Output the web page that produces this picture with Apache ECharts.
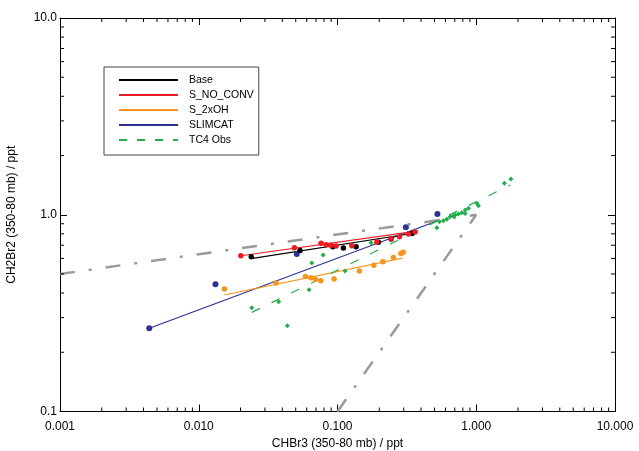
<!DOCTYPE html>
<html><head><meta charset="utf-8">
<script src="https://cdn.jsdelivr.net/npm/echarts@6/dist/echarts.min.js"></script>
<style>html,body{margin:0;padding:0;background:#fff}#c{width:639px;height:451px}</style>
</head><body><div id="c"></div>
<script>
// ---- data ----
const xTickLabels = ['0.001', '0.010', '0.100', '1.000', '10.000'];
const yTickLabels = ['0.1', '1.0', '10.0'];
const xMinorTicks = [0.002,0.003,0.004,0.005,0.006,0.007,0.008,0.009,
  0.02,0.03,0.04,0.05,0.06,0.07,0.08,0.09,
  0.2,0.3,0.4,0.5,0.6,0.7,0.8,0.9,
  2,3,4,5,6,7,8,9];
const yMinorTicks = [0.2,0.3,0.4,0.5,0.6,0.7,0.8,0.9, 2,3,4,5,6,7,8,9];

const baseX = [0.0239, 0.0537, 0.0925, 0.1103, 0.1362, 0.197, 0.2435, 0.345];
const baseY = [0.612, 0.659, 0.688, 0.677, 0.688, 0.724, 0.752, 0.802];
const baseFitX = [0.0245, 0.373];
const baseFitY = [0.600, 0.810];

const noConvX = [0.0201, 0.0489, 0.0762, 0.0828, 0.0895, 0.0977, 0.1268, 0.192, 0.2435, 0.2795, 0.3245, 0.3627];
const noConvY = [0.619, 0.680, 0.716, 0.704, 0.699, 0.693, 0.696, 0.727, 0.755, 0.773, 0.798, 0.817];
const noConvFitX = [0.0201, 0.373];
const noConvFitY = [0.619, 0.825];

const oh2X = [0.0153, 0.0361, 0.0587, 0.0642, 0.0693, 0.0758, 0.0945, 0.1438, 0.1827, 0.2121, 0.2529, 0.286, 0.297];
const oh2Y = [0.419, 0.450, 0.486, 0.478, 0.469, 0.462, 0.471, 0.517, 0.553, 0.577, 0.607, 0.636, 0.644];
const oh2FitX = [0.0153, 0.2937];
const oh2FitY = [0.391, 0.602];

const slimX = [0.0044, 0.0132, 0.0509, 0.311, 0.525];
const slimY = [0.265, 0.443, 0.631, 0.863, 1.008];
const slimFitX = [0.0044, 0.523];
const slimFitY = [0.265, 0.929];

const tc4X = [0.0241, 0.0377, 0.0435, 0.0624, 0.0653, 0.0787, 0.1134, 0.1747, 0.520, 0.543, 0.580, 0.614, 0.648, 0.685, 0.705, 0.744, 0.788, 0.832, 0.879, 0.832, 1.01, 1.037, 1.597, 1.777];
const tc4Y = [0.337, 0.361, 0.273, 0.416, 0.568, 0.624, 0.517, 0.721, 0.859, 0.921, 0.932, 0.948, 0.977, 0.985, 0.997, 1.008, 1.024, 1.056, 1.078, 1.016, 1.143, 1.111, 1.444, 1.519];
const tc4FitX = [0.0241, 1.756];
const tc4FitY = [0.319, 1.416];

const ref1X = [0.001, 1];
const ref1Y = [0.5, 1];
const ref2X = [0.1, 1];
const ref2Y = [0.1, 1];

// ---- chart ----
const FONT = 'Liberation Sans, Arial, Helvetica, sans-serif';
const pair = (xs, ys) => xs.map((x, i) => [x, ys[i]]);
const C = {base:'#000000', noconv:'#ed1c24', oh:'#f7941d', slim:'#2e3192', tc4:'#1fae4b', ref:'#9a9a9a'};

const axisCommon = {
  type: 'log', logBase: 10,
  axisLine: {show: true, onZero: false, lineStyle: {color: '#000', width: 1}},
  axisTick: {show: true, inside: true, length: 7, lineStyle: {color: '#000', width: 1}},
  splitLine: {show: false}
};

function lineSeries(name, xs, ys, color, extra) {
  return Object.assign({
    name: name, type: 'line', data: pair(xs, ys), symbol: 'none', silent: true,
    lineStyle: {color: color, width: 1.2}, itemStyle: {color: color}, z: 3
  }, extra || {});
}
function scatterSeries(name, xs, ys, color, sym, size) {
  return {name: name, type: 'scatter', data: pair(xs, ys), symbol: sym, symbolSize: size,
    itemStyle: {color: color, opacity: 1}, silent: true, z: 4};
}

const chart = echarts.init(document.getElementById('c'));
chart.setOption({
  animation: false,
  backgroundColor: '#fff',
  textStyle: {fontFamily: FONT},
  grid: {left: 60, right: 24, top: 18, bottom: 39.5, containLabel: false, outerBoundsMode: 'none'},
  legend: {
    orient: 'vertical', left: 104, top: 67, selectedMode: false,
    backgroundColor: '#fff', borderColor: '#444', borderWidth: 1, borderRadius: 0,
    padding: [7, 5, 9, 14],
    itemWidth: 59, itemHeight: 10, itemGap: 3,
    itemStyle: {color: 'rgba(0,0,0,0)', borderColor: 'rgba(0,0,0,0)', borderWidth: 0, opacity: 0},
    textStyle: {fontFamily: FONT, fontSize: 10.5, color: '#000', lineHeight: 12, padding: [0, 0, 0, 6]},
    data: [
      {name: 'Base'}, {name: 'S_NO_CONV'}, {name: 'S_2xOH'}, {name: 'SLIMCAT'},
      {name: 'TC4 Obs', lineStyle: {width: 2, type: [8, 10]}}
    ]
  },
  xAxis: [
    Object.assign({}, axisCommon, {
      min: 0.001, max: 10, position: 'bottom',
      axisLabel: {show: true, margin: 9, fontSize: 12, color: '#000', fontFamily: FONT,
        showMinLabel: true, showMaxLabel: true,
        formatter: (v, i) => xTickLabels[Math.round(Math.log10(v)) + 3]},
      name: 'CHBr3 (350-80 mb) / ppt', nameLocation: 'middle', nameGap: 23,
      nameTextStyle: {fontSize: 12, color: '#000', fontFamily: FONT}
    }),
    Object.assign({}, axisCommon, {min: 0.001, max: 10, position: 'top', axisLabel: {show: false}})
  ],
  yAxis: [
    Object.assign({}, axisCommon, {
      min: 0.1, max: 10, position: 'left',
      axisLabel: {show: true, margin: 3, fontSize: 12, color: '#000', fontFamily: FONT,
        showMinLabel: true, showMaxLabel: true,
        formatter: (v, i) => yTickLabels[Math.round(Math.log10(v)) + 1]},
      name: 'CH2Br2 (350-80 mb) / ppt', nameLocation: 'middle', nameGap: 42,
      nameTextStyle: {fontSize: 12, color: '#000', fontFamily: FONT}
    }),
    Object.assign({}, axisCommon, {min: 0.1, max: 10, position: 'right', axisLabel: {show: false}})
  ],
  series: [
    {
      name: 'xminor', type: 'custom', silent: true, clip: false, z: 5,
      data: xMinorTicks.map(v => [v, 1]),
      renderItem: function (params, api) {
        const p = api.coord([api.value(0), 1]);
        const cs = params.coordSys;
        const st = {stroke: '#000', lineWidth: 1};
        return {type: 'group', children: [
          {type: 'line', shape: {x1: p[0], y1: cs.y + cs.height, x2: p[0], y2: cs.y + cs.height - 4}, style: st},
          {type: 'line', shape: {x1: p[0], y1: cs.y, x2: p[0], y2: cs.y + 4}, style: st}
        ]};
      }
    },
    {
      name: 'yminor', type: 'custom', silent: true, clip: false, z: 5,
      data: yMinorTicks.map(v => [1, v]),
      renderItem: function (params, api) {
        const p = api.coord([1, api.value(1)]);
        const cs = params.coordSys;
        const st = {stroke: '#000', lineWidth: 1};
        return {type: 'group', children: [
          {type: 'line', shape: {x1: cs.x, y1: p[1], x2: cs.x + 4, y2: p[1]}, style: st},
          {type: 'line', shape: {x1: cs.x + cs.width, y1: p[1], x2: cs.x + cs.width - 4, y2: p[1]}, style: st}
        ]};
      }
    },
    lineSeries('ref1', ref1X, ref1Y, C.ref, {lineStyle: {color: C.ref, width: 2.5, type: [15, 14, 3, 14]}, z: 2}),
    lineSeries('ref2', ref2X, ref2Y, C.ref, {lineStyle: {color: C.ref, width: 2.5, type: [15, 14, 3, 14]}, z: 2}),
    lineSeries('SLIMCAT', slimFitX, slimFitY, C.slim),
    lineSeries('S_2xOH', oh2FitX, oh2FitY, C.oh),
    lineSeries('TC4 Obs', tc4FitX, tc4FitY, C.tc4, {lineStyle: {color: C.tc4, width: 1.2, type: [9, 13]}}),
    lineSeries('Base', baseFitX, baseFitY, C.base),
    lineSeries('S_NO_CONV', noConvFitX, noConvFitY, C.noconv),
    scatterSeries('tc4 pts', tc4X, tc4Y, C.tc4, 'diamond', 5),
    scatterSeries('slim pts', slimX, slimY, C.slim, 'circle', 6),
    scatterSeries('oh pts', oh2X, oh2Y, C.oh, 'circle', 5.5),
    scatterSeries('base pts', baseX, baseY, C.base, 'circle', 5.5),
    scatterSeries('noconv pts', noConvX, noConvY, C.noconv, 'circle', 5.5)
  ]
});
</script></body></html>
